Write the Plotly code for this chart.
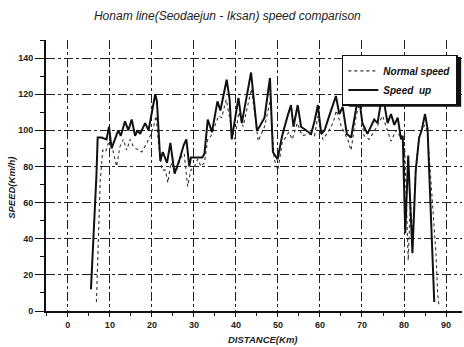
import plotly.graph_objects as go

# Speed up (solid)
dist_up = [5.5, 6.2, 6.8, 7.1, 8.0, 9.2, 9.8, 10.4, 11.2, 12.0, 12.6, 13.6, 14.4, 15.2, 16.0, 16.6,
           17.2, 18.4, 19.2, 20.0, 20.8, 21.2, 22.0, 22.6, 23.6, 24.4, 25.4, 26.6, 27.6, 28.2, 28.9,
           29.3, 30.5, 32.0, 32.5, 33.3, 34.3, 35.6, 36.3, 37.8, 38.5, 39.0, 40.6, 41.4, 43.6, 45.0,
           45.6, 46.8, 48.1, 48.8, 49.9, 51.0, 52.3, 53.1, 53.7, 54.7, 55.5, 56.7, 57.9, 58.7, 59.5,
           60.3, 61.1, 62.2, 63.8, 64.6, 65.4, 66.4, 67.4, 69.2, 70.1, 71.3, 72.9, 73.7, 74.9, 75.5,
           76.1, 76.9, 77.7, 78.5, 79.3, 79.7, 80.3, 81.0, 82.0, 82.8, 83.6, 84.2, 85.0, 85.6, 87.2]
speed_up = [12, 45, 75, 96, 96, 95, 102, 90, 95, 100, 97, 105, 100, 106, 97, 100,
            98, 104, 100, 110, 120, 116, 83, 88, 82, 93, 76, 84, 92, 95, 80,
            85, 85, 85, 87, 106, 99, 116, 111, 128, 117, 95, 118, 104, 132, 100,
            102, 107, 129, 88, 84, 97, 108, 114, 102, 114, 102, 100, 98, 105, 114,
            98, 100, 108, 119, 109, 113, 98, 96, 120, 104, 98, 106, 104, 121, 112,
            104, 109, 103, 107, 95, 97, 43, 86, 32, 78, 96, 100, 109, 101, 5]

# Normal speed (dotted)
dist_normal = [6.8, 7.3, 7.7, 8.3, 9.0, 9.9, 10.7, 11.6, 12.4, 13.2, 14.0, 14.8, 15.6, 16.8, 17.6,
               18.8, 19.6, 20.4, 21.0, 21.6, 22.4, 23.2, 23.8, 24.5, 25.7, 26.9, 27.7, 28.5, 29.3,
               30.1, 30.9, 31.7, 32.5, 33.3, 34.1, 34.9, 35.9, 36.6, 37.7, 38.9, 39.7, 40.7, 41.7,
               43.7, 45.3, 46.8, 48.2, 49.1, 50.0, 51.0, 52.6, 53.4, 54.6, 55.8, 57.4, 58.7, 59.5,
               60.7, 61.9, 63.1, 63.9, 65.1, 66.6, 67.4, 68.6, 69.4, 70.5, 71.7, 73.3, 74.9, 76.1,
               76.9, 78.1, 79.3, 80.1, 80.6, 81.0, 81.5, 82.0, 82.8, 83.6, 84.4, 85.0, 85.6, 87.0,
               87.6, 88.0, 88.3]
speed_normal = [5, 50, 72, 89, 88, 95, 89, 80, 91, 95, 89, 95, 91, 89, 88,
                93, 97, 102, 108, 92, 78, 78, 71, 82, 77, 85, 87, 69, 78,
                80, 84, 80, 82, 95, 97, 102, 108, 107, 117, 102, 95, 110, 102,
                123, 94, 102, 117, 84, 78, 93, 99, 95, 104, 97, 98, 97, 108,
                95, 99, 104, 111, 102, 95, 89, 108, 115, 97, 95, 101, 108, 99,
                94, 100, 96, 95, 55, 28, 60, 40, 80, 96, 101, 103, 99, 50,
                32, 10, 3]

x_ticks = [0, 10, 20, 30, 40, 50, 60, 70, 80, 90]
y_ticks = [0, 20, 40, 60, 80, 100, 120, 140]

FONT = "Liberation Sans, Arial, sans-serif"

fig = go.Figure()
fig.add_trace(go.Scatter(x=dist_normal, y=speed_normal, mode="lines", name="Normal speed",
                         line=dict(color="#333333", width=1.1, dash="dot")))
fig.add_trace(go.Scatter(x=dist_up, y=speed_up, mode="lines", name="Speed  up",
                         line=dict(color="#111111", width=2)))

fig.update_layout(
    width=464, height=347,
    margin=dict(l=46, r=2, t=40, b=36),
    paper_bgcolor="white", plot_bgcolor="white",
    font=dict(family=FONT, color="#111111"),
    title=dict(text="Honam line(Seodaejun - Iksan) speed comparison",
               x=0.49, xanchor="center", y=0.955, yanchor="middle", yref="container",
               font=dict(size=12, style="italic", color="#222222")),
    showlegend=True,
    legend=dict(x=0.99, xanchor="right", y=0.945, yanchor="top",
                bgcolor="white", bordercolor="#111111", borderwidth=1.5,
                font=dict(size=10, style="italic", weight="bold"), tracegroupgap=0,
                itemwidth=30),
    shapes=[
        # drop shadow behind the legend box
        dict(type="rect", xref="paper", yref="paper", x0=0.728, x1=0.998, y0=0.754, y1=0.937,
             fillcolor="#111111", line=dict(width=0), layer="above"),
    ],
    annotations=[
        dict(text="DISTANCE(Km)", xref="paper", yref="paper", x=0.522, y=-0.107,
             xanchor="center", yanchor="middle", showarrow=False,
             font=dict(size=9.5, style="italic", weight="bold", color="#222222")),
        dict(text="SPEED(Km/h)", xref="paper", yref="paper", x=-0.082, y=0.454,
             xanchor="center", yanchor="middle", showarrow=False, textangle=-90,
             font=dict(size=9.5, style="italic", weight="bold", color="#222222")),
    ],
)

fig.update_xaxes(
    range=[-5.2, 93.8], tickvals=x_ticks, showgrid=True, gridcolor="#222222",
    griddash="dashdot", gridwidth=1, zeroline=False, showline=True, automargin=False,
    linecolor="#111111", linewidth=2, ticks="outside", ticklen=4, tickcolor="#111111",
    tickfont=dict(size=9, weight="bold", color="#222222"),
    minor=dict(dtick=5, tick0=0, ticks="outside", ticklen=3, tickcolor="#111111", showgrid=False),
)
fig.update_yaxes(
    range=[0, 150], tickvals=y_ticks, showgrid=True, gridcolor="#222222",
    griddash="dashdot", gridwidth=1, zeroline=False, showline=True, automargin=False,
    linecolor="#111111", linewidth=2, ticks="outside", ticklen=9, tickcolor="#111111",
    tickfont=dict(size=9, weight="bold", color="#222222"),
    minor=dict(dtick=10, tick0=0, ticks="outside", ticklen=4, tickcolor="#111111", showgrid=False),
)

fig.write_html("out.html", config={"displayModeBar": False},
               post_script="document.body.style.margin='0';")
